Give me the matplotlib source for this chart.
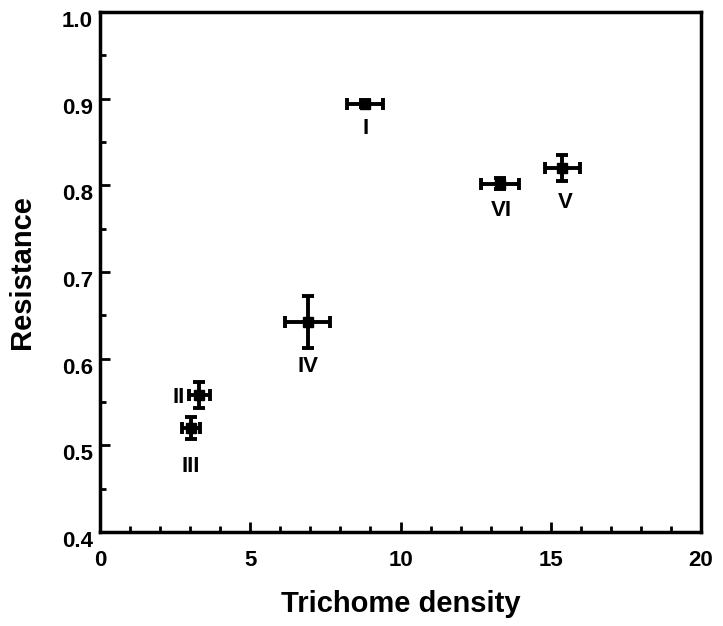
import matplotlib.pyplot as plt
from matplotlib.ticker import MultipleLocator
from matplotlib.transforms import ScaledTranslation

plt.rcParams['font.family'] = ['Liberation Sans', 'DejaVu Sans']
plt.rcParams['font.weight'] = 'bold'

# данные
labels = ['I', 'II', 'III', 'IV', 'V', 'VI']
density = [8.83, 3.30, 3.03, 6.91, 15.39, 13.31]
density_err = [0.60, 0.35, 0.30, 0.75, 0.58, 0.62]
resistance = [0.894, 0.558, 0.520, 0.642, 0.820, 0.802]
resistance_err = [0.004, 0.015, 0.0125, 0.030, 0.015, 0.006]

# смещения подписей (в пунктах) относительно точек
label_offsets = {'I': (0, -18), 'II': (-15, -2), 'III': (0, -28), 'IV': (0, -32),
                 'V': (2, -24.5), 'VI': (1, -19.5)}

fig = plt.figure(figsize=(7.23, 6.26), dpi=100)
ax = fig.add_axes([0.1383, 0.1502, 0.8313, 0.8306])

ax.errorbar(density, resistance, xerr=density_err, yerr=resistance_err,
            fmt='s', color='black', markersize=7, elinewidth=2.8,
            capsize=4.5, capthick=2.8, linestyle='none')

for name, x, y in zip(labels, density, resistance):
    dx, dy = label_offsets[name]
    ax.annotate(name, (x, y), xytext=(dx, dy), textcoords='offset points',
                ha='center', va='center', fontsize=16, fontweight='bold')

ax.set_xlim(0, 20)
ax.set_ylim(0.4, 1.0)
ax.xaxis.set_major_locator(MultipleLocator(5))
ax.xaxis.set_minor_locator(MultipleLocator(1))
ax.yaxis.set_minor_locator(MultipleLocator(0.05))
ax.set_yticks([0.4, 0.5, 0.6, 0.7, 0.8, 0.9, 1.0])
ax.set_yticklabels(['0.4', '0.5', '0.6', '0.7', '0.8', '0.9', '1.0'])

ax.tick_params(which='both', direction='in', width=2, labelsize=16)
ax.tick_params(which='major', length=7)
ax.tick_params(which='minor', length=4)
ax.tick_params(axis='x', pad=13)
ax.tick_params(axis='y', pad=5)
for spine in ax.spines.values():
    spine.set_linewidth(2.5)

# подписи оси Y в оригинале чуть ниже своих делений
shift = ScaledTranslation(0, -5 / 72, fig.dpi_scale_trans)
for lbl in ax.get_yticklabels():
    lbl.set_transform(lbl.get_transform() + shift)

ax.set_xlabel('Trichome density', fontsize=21, fontweight='bold', labelpad=14)
ax.set_ylabel('Resistance', fontsize=21, fontweight='bold', labelpad=19)

plt.savefig('out.png', dpi=100)
plt.close(fig)
